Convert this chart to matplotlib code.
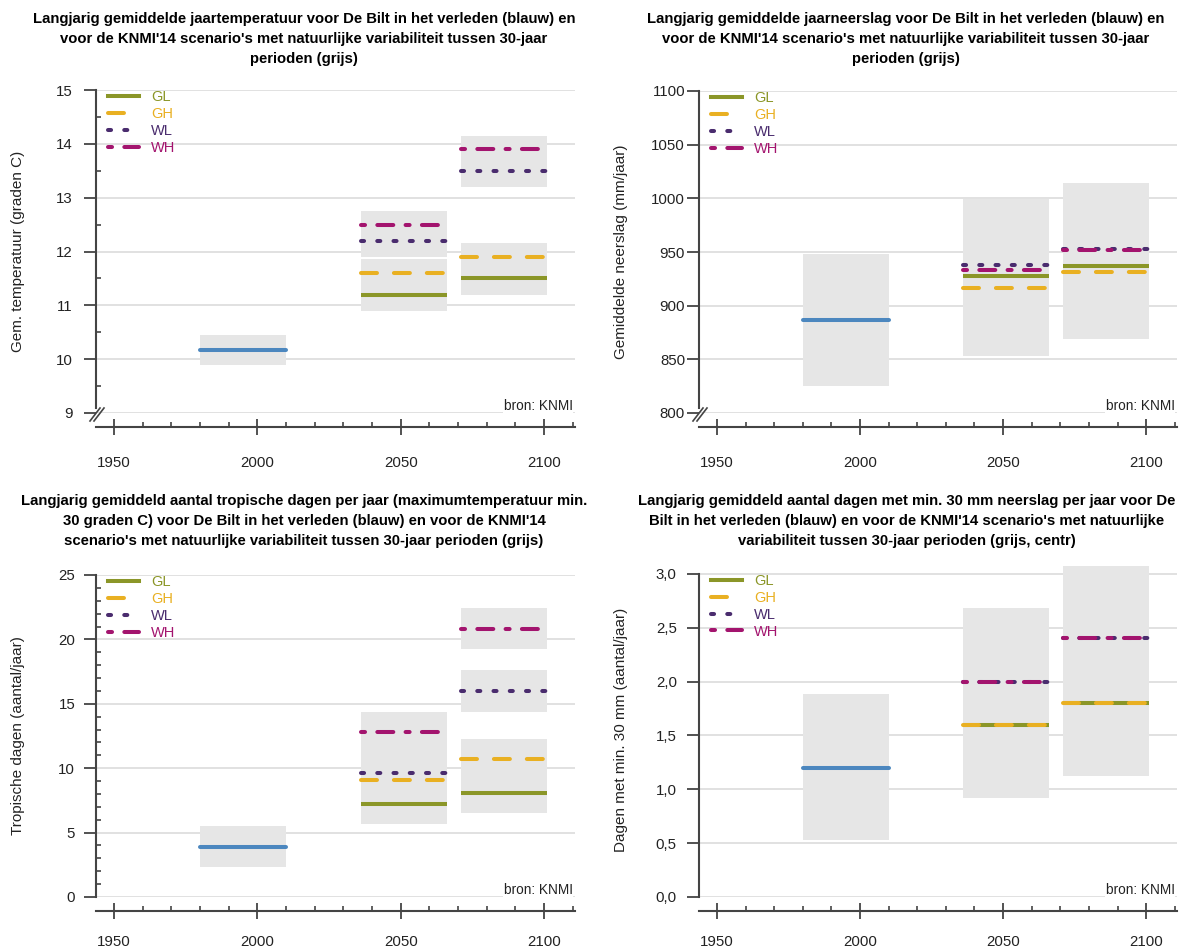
import matplotlib.pyplot as plt
from matplotlib.ticker import MultipleLocator, FuncFormatter
from matplotlib.lines import Line2D

plt.rcParams['font.family'] = ['Liberation Sans', 'DejaVu Sans']
plt.rcParams['lines.scale_dashes'] = False

W, H = 1180, 951

# 30-jaar perioden (begin, eind)
hist_period = (1980, 2010)
mid_period = (2036, 2066)
end_period = (2071, 2101)
scenarios = ['GL', 'GH', 'WL', 'WH']

# jaartemperatuur (graden C)
temp_hist = 10.17
temp_hist_range = (9.9, 10.45)
temp_mid = [11.2, 11.6, 12.2, 12.5]
temp_end = [11.5, 11.9, 13.5, 13.9]
temp_mid_ranges = [(10.9, 11.86), (11.9, 12.75)]
temp_end_ranges = [(11.2, 12.16), (13.2, 14.15)]

# jaarneerslag (mm/jaar)
rain_hist = 887
rain_hist_range = (825, 948)
rain_mid = [928, 916, 938, 933]
rain_end = [937, 931, 953, 952]
rain_mid_ranges = [(853, 999)]
rain_end_ranges = [(869, 1014)]

# tropische dagen (aantal/jaar)
trop_hist = 3.9
trop_hist_range = (2.3, 5.5)
trop_mid = [7.2, 9.1, 9.6, 12.8]
trop_end = [8.1, 10.7, 16.0, 20.8]
trop_mid_ranges = [(5.7, 11.3), (11.2, 14.4)]
trop_end_ranges = [(6.5, 12.3), (14.4, 17.6), (19.25, 22.4)]

# dagen met min. 30 mm (aantal/jaar)
wet_hist = 1.2
wet_hist_range = (0.53, 1.88)
wet_mid = [1.6, 1.6, 2.0, 2.0]
wet_end = [1.8, 1.8, 2.4, 2.4]
wet_mid_ranges = [(0.92, 2.68)]
wet_end_ranges = [(1.12, 3.07)]

colors = {'GL': '#8b9628', 'GH': '#e9b022', 'WL': '#4a2c6e', 'WH': '#a3146e'}
styles = {'GL': '-', 'GH': (0, (11.5, 12.2)), 'WL': (0, (2.2, 9.5)),
          'WH': (0, (2.9, 8.85, 11.5, 8.85))}
blue = '#4c87bf'
box_color = '#e6e6e6'
axis_color = '#444444'
text_color = '#222222'
lw = 2.9

titles = [
    "Langjarig gemiddelde jaartemperatuur voor De Bilt in het verleden (blauw) en\n"
    "voor de KNMI'14 scenario's met natuurlijke variabiliteit tussen 30-jaar\nperioden (grijs)",
    "Langjarig gemiddelde jaarneerslag voor De Bilt in het verleden (blauw) en\n"
    "voor de KNMI'14 scenario's met natuurlijke variabiliteit tussen 30-jaar\nperioden (grijs)",
    "Langjarig gemiddeld aantal tropische dagen per jaar (maximumtemperatuur min.\n"
    "30 graden C) voor De Bilt in het verleden (blauw) en voor de KNMI'14\n"
    "scenario's met natuurlijke variabiliteit tussen 30-jaar perioden (grijs)",
    "Langjarig gemiddeld aantal dagen met min. 30 mm neerslag per jaar voor De\n"
    "Bilt in het verleden (blauw) en voor de KNMI'14 scenario's met natuurlijke\n"
    "variabiliteit tussen 30-jaar perioden (grijs, centr)",
]
ylabels = ['Gem. temperatuur (graden C)', 'Gemiddelde neerslag (mm/jaar)',
           'Tropische dagen (aantal/jaar)', 'Dagen met min. 30 mm (aantal/jaar)']

panels = [
    dict(hist=temp_hist, hist_range=temp_hist_range, mid=temp_mid, end=temp_end,
         mid_ranges=temp_mid_ranges, end_ranges=temp_end_ranges,
         ylim=(9, 15), ytop=15, step=1, minor=0.5, brk=True,
         px=(96, 575, 90, 413), pad=8, xpad=15, fmt=None),
    dict(hist=rain_hist, hist_range=rain_hist_range, mid=rain_mid, end=rain_end,
         mid_ranges=rain_mid_ranges, end_ranges=rain_end_ranges,
         ylim=(800, 1100), ytop=1100, step=50, minor=None, brk=True,
         px=(699, 1177, 91, 413), pad=1, xpad=15, fmt=None),
    dict(hist=trop_hist, hist_range=trop_hist_range, mid=trop_mid, end=trop_end,
         mid_ranges=trop_mid_ranges, end_ranges=trop_end_ranges,
         ylim=(0, 25), ytop=25, step=5, minor=1, brk=False,
         px=(96, 575, 575, 897), pad=6, xpad=11, fmt=None),
    dict(hist=wet_hist, hist_range=wet_hist_range, mid=wet_mid, end=wet_end,
         mid_ranges=wet_mid_ranges, end_ranges=wet_end_ranges,
         ylim=(0, 3.1), ytop=3.0, step=0.5, minor=None, brk=False,
         px=(699, 1177, 563, 897), pad=7, xpad=11, fmt='comma'),
]
title_pos = [(304, 12), (906, 12), (304, 494), (907, 494)]

fig = plt.figure(figsize=(W / 100, H / 100), dpi=100)

for i, p in enumerate(panels):
    left, right, top, bottom = p['px']
    ax = fig.add_axes([left / W, 1 - bottom / H, (right - left) / W, (bottom - top) / H])
    ax.set_xlim(1943.7, 2110.8)
    ax.set_ylim(*p['ylim'])

    # grijze banden
    for period, ranges in [(hist_period, [p['hist_range']]),
                           (mid_period, p['mid_ranges']),
                           (end_period, p['end_ranges'])]:
        for lo, hi in ranges:
            ax.bar((period[0] + period[1]) / 2, hi - lo, bottom=lo,
                   width=period[1] - period[0], color=box_color, zorder=1)

    ax.plot(hist_period, [p['hist']] * 2, color=blue, lw=lw,
            solid_capstyle='round', zorder=3)
    for period, vals in [(mid_period, p['mid']), (end_period, p['end'])]:
        for name, v in zip(scenarios, vals):
            ax.plot(period, [v, v], color=colors[name], ls=styles[name], lw=lw,
                    dash_capstyle='round', solid_capstyle='butt', zorder=3)

    ytop_frac = (p['ytop'] - p['ylim'][0]) / (p['ylim'][1] - p['ylim'][0])
    handles = [Line2D([], [], color=colors[n], ls=styles[n], lw=lw,
                      dash_capstyle='round') for n in scenarios]
    leg = ax.legend(handles, scenarios, loc='upper left',
                    bbox_to_anchor=(12 / (right - left), ytop_frac), frameon=False,
                    borderpad=0, borderaxespad=0, handlelength=2.1,
                    handletextpad=0.85, labelspacing=0.2, fontsize=10.5)
    for txt, n in zip(leg.get_texts(), scenarios):
        txt.set_color(colors[n])

    ax.set_axisbelow(True)
    ax.yaxis.grid(True, color='#dedede', lw=1.3)
    ax.yaxis.set_major_locator(MultipleLocator(p['step']))
    if p['minor']:
        ax.yaxis.set_minor_locator(MultipleLocator(p['minor']))
    if p['fmt'] == 'comma':
        ax.yaxis.set_major_formatter(FuncFormatter(lambda v, pos: f'{v:.1f}'.replace('.', ',')))
    ax.xaxis.set_major_locator(MultipleLocator(50))
    ax.xaxis.set_minor_locator(MultipleLocator(10))

    for s in ['top', 'right']:
        ax.spines[s].set_visible(False)
    for s in ['left', 'bottom']:
        ax.spines[s].set_color(axis_color)
        ax.spines[s].set_linewidth(1.5)
    ax.spines['bottom'].set_position(('outward', 10))
    ybot = p['ylim'][0]
    if p['brk']:
        ybot = p['ylim'][0] + (p['ylim'][1] - p['ylim'][0]) * 5 / (bottom - top)
    ax.spines['left'].set_bounds(ybot, p['ytop'])

    ax.tick_params(axis='y', which='major', direction='out', length=9, width=1.3,
                   color=axis_color, labelcolor=text_color, labelsize=10.8, pad=p['pad'])
    ax.tick_params(axis='y', which='minor', direction='in', length=3.5, width=1.2,
                   color=axis_color)
    ax.tick_params(axis='x', which='major', direction='inout', length=12, width=1.3,
                   color=axis_color, labelcolor=text_color, labelsize=10.8, pad=p['xpad'])
    ax.tick_params(axis='x', which='minor', direction='in', length=3.5, width=1.2,
                   color=axis_color)

    if p['brk']:
        aw, ah = right - left, bottom - top
        for dx in (0, 4):
            ax.plot([(-6 + dx) / aw, (4 + dx) / aw], [-8 / ah, 5 / ah],
                    transform=ax.transAxes, color=axis_color, lw=1.2,
                    clip_on=False, zorder=5)

    ax.text(0.995, p['ylim'][0], 'bron: KNMI', transform=ax.get_yaxis_transform(),
            ha='right', va='bottom', fontsize=9.8, color=text_color,
            bbox=dict(facecolor='white', edgecolor='none', pad=0.5), zorder=4)

    fig.text((left - 78) / W, 1 - (top + bottom) / 2 / H, ylabels[i], rotation=90,
             ha='center', va='center', fontsize=11, color=text_color)
    tx, ty = title_pos[i]
    fig.text(tx / W, 1 - ty / H, titles[i], ha='center', va='top', fontsize=10.7,
             fontweight='bold', color='black', linespacing=1.55)

fig.savefig('out.png', dpi=100)
